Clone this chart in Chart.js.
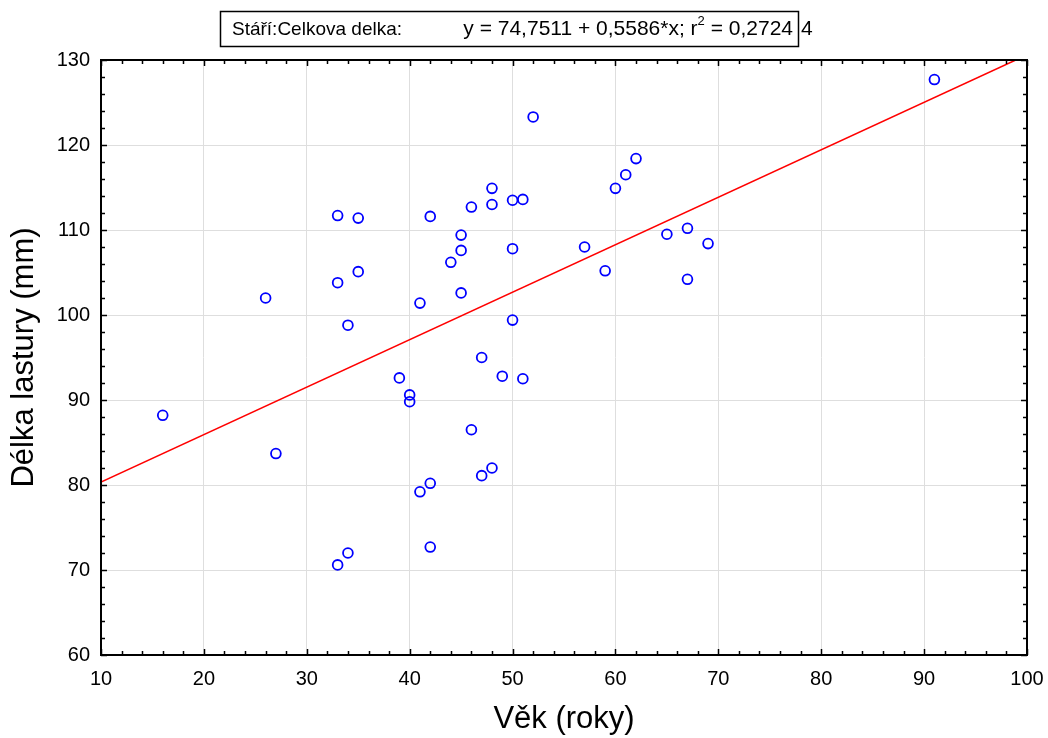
<!DOCTYPE html>
<html>
<head>
<meta charset="utf-8">
<script src="https://cdn.jsdelivr.net/npm/chart.js@4/dist/chart.umd.min.js"></script>
<style>
  html, body { margin: 0; padding: 0; background: #ffffff; }
  #c { display: block; }
</style>
</head>
<body>
<canvas id="c" width="1048" height="738"></canvas>
<script>
// Age of each mussel (years)
const ages = [
  16, 26, 27, 33, 33, 33, 34, 34, 35, 35,
  39, 40, 40, 41, 41, 42, 42, 42, 44, 45,
  45, 45, 46, 46, 47, 47, 48, 48, 48, 49,
  50, 50, 50, 51, 51, 52, 57, 59, 60, 61,
  62, 65, 67, 67, 69, 91
];
// Shell length of each mussel (mm)
const lengths = [
  88.2, 102.0, 83.7, 111.7, 103.8, 70.6, 98.8, 72.0, 111.4, 105.1,
  92.6, 90.6, 89.8, 101.4, 79.2, 111.6, 80.2, 72.7, 106.2, 109.4,
  107.6, 102.6, 112.7, 86.5, 95.0, 81.1, 114.9, 113.0, 82.0, 92.8,
  113.5, 107.8, 99.4, 113.6, 92.5, 123.3, 108.0, 105.2, 114.9, 116.5,
  118.4, 109.5, 110.2, 104.2, 108.4, 127.7
];
// Axis tick values
const xTicks = [10, 20, 30, 40, 50, 60, 70, 80, 90, 100];
const yTicks = [60, 70, 80, 90, 100, 110, 120, 130];
// Least-squares fit
const fitIntercept = 74.7511;
const fitSlope = 0.5586;
const rSquaredText = '0,27244';

const FONT = '"Liberation Sans", Arial, sans-serif';
const X_MIN = 10, X_MAX = 100, Y_MIN = 60, Y_MAX = 130;

const fmt = v => v.toFixed(4).replace('.', ',');

// Fit line from the left edge until it leaves the top of the plot
const fitEndX = Math.min(X_MAX, (Y_MAX - fitIntercept) / fitSlope);
const fitLine = [X_MIN, fitEndX].map(x => ({ x: x, y: fitIntercept + fitSlope * x }));

// Frame, inward ticks and the boxed regression header
const frameAndHeader = {
  id: 'frameAndHeader',
  afterDraw(chart) {
    const { ctx, chartArea: a, scales: { x, y } } = chart;
    ctx.save();
    ctx.strokeStyle = '#000';
    // inward tick marks on all four sides
    ctx.lineWidth = 1.5;
    ctx.beginPath();
    for (let v = X_MIN; v <= X_MAX; v += 2) {
      const px = Math.round(x.getPixelForValue(v)) + 0.5;
      const len = (v % 10 === 0) ? 6 : 4;
      ctx.moveTo(px, a.bottom); ctx.lineTo(px, a.bottom - len);
      ctx.moveTo(px, a.top); ctx.lineTo(px, a.top + len);
    }
    for (let v = Y_MIN; v <= Y_MAX; v += 2) {
      const py = Math.round(y.getPixelForValue(v)) + 0.5;
      const len = (v % 10 === 0) ? 6 : 4;
      ctx.moveTo(a.left, py); ctx.lineTo(a.left + len, py);
      ctx.moveTo(a.right, py); ctx.lineTo(a.right - len, py);
    }
    ctx.stroke();
    // plot frame
    ctx.lineWidth = 2;
    ctx.strokeRect(a.left, a.top, a.right - a.left, a.bottom - a.top);

    // header box
    const boxL = 220, boxT = 11, boxR = 798, boxB = 46;
    ctx.lineWidth = 1.5;
    ctx.strokeRect(boxL + 0.5, boxT + 0.5, boxR - boxL, boxB - boxT);
    ctx.fillStyle = '#000';
    ctx.textBaseline = 'alphabetic';
    ctx.textAlign = 'left';
    const base = 35;
    ctx.font = '19px ' + FONT;
    ctx.fillText('Stáří:Celkova delka:', 232, base);
    const eq = 'y = ' + fmt(fitIntercept) + ' + ' + fmt(fitSlope) + '*x; r';
    const rTail = ' = ' + rSquaredText.slice(0, -1);
    const lastDigit = rSquaredText.slice(-1);
    ctx.font = '21px ' + FONT;
    const wEq = ctx.measureText(eq).width;
    const wTail = ctx.measureText(rTail).width;
    ctx.font = '13px ' + FONT;
    const wSup = ctx.measureText('2').width;
    const endX = boxR - 5;
    let cx = endX - wTail - wSup - wEq;
    ctx.font = '21px ' + FONT;
    ctx.fillText(eq, cx, base);
    cx += wEq;
    ctx.font = '13px ' + FONT;
    ctx.fillText('2', cx, base - 10);
    cx += wSup;
    ctx.font = '21px ' + FONT;
    ctx.fillText(rTail, cx, base);
    ctx.fillText(lastDigit, boxR + 3, base);
    ctx.restore();
  }
};

new Chart(document.getElementById('c'), {
  type: 'scatter',
  data: {
    datasets: [
      {
        type: 'scatter',
        data: ages.map((a, i) => ({ x: a, y: lengths[i] })),
        pointStyle: 'circle',
        pointRadius: 4.9,
        pointBorderWidth: 1.8,
        pointBorderColor: '#0000ff',
        pointBackgroundColor: 'rgba(0,0,0,0)',
        order: 1
      },
      {
        type: 'line',
        data: fitLine,
        borderColor: '#ff0000',
        borderWidth: 1.5,
        pointRadius: 0,
        fill: false,
        order: 2
      }
    ]
  },
  options: {
    responsive: false,
    animation: false,
    devicePixelRatio: 1,
    layout: { padding: { top: 60, right: 21, left: 0, bottom: 0 } },
    plugins: { legend: { display: false }, tooltip: { enabled: false } },
    scales: {
      x: {
        type: 'linear',
        min: X_MIN, max: X_MAX,
        afterBuildTicks: s => { s.ticks = xTicks.map(v => ({ value: v })); },
        afterFit: s => { s.height = 83; s.paddingLeft = 0; s.paddingRight = 0; },
        grid: { color: '#dedede', lineWidth: 1, drawTicks: false },
        border: { display: false },
        ticks: { padding: 12, color: '#000', autoSkip: false, maxRotation: 0,
                 font: { family: FONT, size: 20 } },
        title: { display: true, text: 'Věk (roky)', color: '#000', padding: 0,
                 font: { family: FONT, size: 31 } }
      },
      y: {
        type: 'linear',
        min: Y_MIN, max: Y_MAX,
        afterBuildTicks: s => { s.ticks = yTicks.map(v => ({ value: v })); },
        afterFit: s => { s.width = 101; s.paddingTop = 0; s.paddingBottom = 0; },
        grid: { color: '#dedede', lineWidth: 1, drawTicks: false },
        border: { display: false },
        ticks: { padding: 11, color: '#000', autoSkip: false,
                 font: { family: FONT, size: 20 } },
        title: { display: true, text: 'Délka lastury (mm)', color: '#000',
                 padding: { top: 6, bottom: 0 },
                 font: { family: FONT, size: 31 } }
      }
    }
  },
  plugins: [frameAndHeader]
});
</script>
</body>
</html>
